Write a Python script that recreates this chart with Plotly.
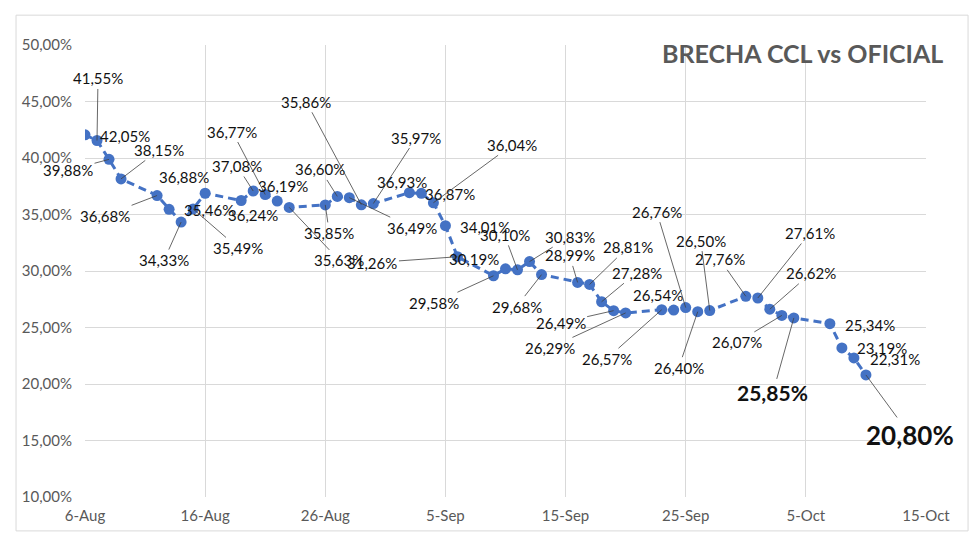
import plotly.graph_objects as go

# ---- data ----
dates = ["2019-08-06", "2019-08-07", "2019-08-08", "2019-08-09",
         "2019-08-12", "2019-08-13", "2019-08-14", "2019-08-15", "2019-08-16",
         "2019-08-19", "2019-08-20", "2019-08-21", "2019-08-22", "2019-08-23",
         "2019-08-26", "2019-08-27", "2019-08-28", "2019-08-29", "2019-08-30",
         "2019-09-02", "2019-09-03", "2019-09-04", "2019-09-05", "2019-09-06",
         "2019-09-09", "2019-09-10", "2019-09-11", "2019-09-12", "2019-09-13",
         "2019-09-16", "2019-09-17", "2019-09-18", "2019-09-19", "2019-09-20",
         "2019-09-23", "2019-09-24", "2019-09-25", "2019-09-26", "2019-09-27",
         "2019-09-30", "2019-10-01", "2019-10-02", "2019-10-03", "2019-10-04",
         "2019-10-07", "2019-10-08", "2019-10-09", "2019-10-10"]
brecha = [42.05, 41.55, 39.88, 38.15,
          36.68, 35.46, 34.33, 35.49, 36.88,
          36.24, 37.08, 36.77, 36.19, 35.63,
          35.85, 36.60, 36.49, 35.86, 35.97,
          36.93, 36.87, 36.04, 34.01, 31.26,
          29.58, 30.19, 30.10, 30.83, 29.68,
          28.99, 28.81, 27.28, 26.49, 26.29,
          26.57, 26.54, 26.76, 26.40, 26.50,
          27.76, 27.61, 26.62, 26.07, 25.85,
          25.34, 23.19, 22.31, 20.80]

x_tick_vals = ["2019-08-06", "2019-08-16", "2019-08-26", "2019-09-05",
               "2019-09-15", "2019-09-25", "2019-10-05", "2019-10-15"]
x_tick_text = ["6-Aug", "16-Aug", "26-Aug", "5-Sep", "15-Sep", "25-Sep", "5-Oct", "15-Oct"]

title_text = "BRECHA CCL vs OFICIAL"

# ---- label layout (pixel offsets of label centre from its point, leader line flag) ----
label_offsets = [(40, 1, 0), (1, -62, 1), (-41, 11, 1), (38, -29, 1),
                 (-52, 20, 1), (40, 1, 0), (-17, 38, 1), (45, 39, 1), (-21, -16, 0),
                 (12, 15, 0), (-16, -25, 1), (-33, -63, 1), (6, -15, 0), (50, 53, 1),
                 (4, 28, 1), (-17, -27, 1), (63, 30, 1), (-55, -103, 1), (43, -66, 1),
                 (-7, -11, 0), (29, 1, 0), (79, -58, 1), (40, 1, 0), (-85, 6, 1),
                 (-59, 27, 1), (-32, -10, 0), (-13, -35, 1), (40, -25, 1), (-25, 32, 1),
                 (-8, -27, 1), (38, -37, 1), (35, -29, 1), (-53, 12, 1), (-76, 35, 1),
                 (-55, 49, 1), (-16, -15, 0), (-29, -96, 1), (-19, 56, 1), (-9, -70, 1),
                 (-26, -37, 1), (52, -65, 1), (41, -36, 1), (-45, 27, 1), (-21, 75, 1),
                 (40, 1, 0), (40, 0, 0), (41, 1, 0), (44, 60, 1)]
big_labels = {43: 21, 47: 26}

BLUE = "#4472C4"
FONT = "Lato"

fig = go.Figure()
fig.add_trace(go.Scatter(
    x=dates, y=brecha, mode="lines+markers",
    line=dict(color=BLUE, width=3, dash="8px,5px"),
    marker=dict(color=BLUE, size=11),
    hoverinfo="skip", showlegend=False))

def fmt(v):
    return f"{v:.2f}".replace(".", ",") + "%"

annotations = []
for i, (d, v) in enumerate(zip(dates, brecha)):
    ox, oy, lead = label_offsets[i]
    big = i in big_labels
    annotations.append(dict(
        x=d, y=v, xref="x", yref="y",
        text=("<b>" + fmt(v) + "</b>") if big else fmt(v),
        showarrow=True, arrowhead=0, ax=ox, ay=oy,
        arrowwidth=0.8,
        arrowcolor="#404040" if lead else "rgba(0,0,0,0)",
        standoff=0, startstandoff=0,
        font=dict(family=FONT, size=big_labels.get(i, 15), color="#111111"),
    ))

annotations.append(dict(
    x=1.0226, y=0.982, xref="paper", yref="paper",
    xanchor="right", yanchor="middle", showarrow=False,
    text="<b>" + title_text + "</b>",
    font=dict(family=FONT, size=25, color="#595959")))

fig.update_layout(
    width=980, height=548,
    margin=dict(l=85, r=54, t=45, b=51),
    paper_bgcolor="white", plot_bgcolor="white",
    separators=",.",
    font=dict(family=FONT, size=15, color="#595959"),
    annotations=annotations,
    shapes=[dict(type="rect", xref="paper", yref="paper",
                 x0=-0.082, x1=1.05, y0=-0.075, y1=1.066,
                 line=dict(color="#D9D9D9", width=1), fillcolor="rgba(0,0,0,0)",
                 layer="below")],
)
fig.update_xaxes(
    type="date", range=["2019-08-06", "2019-10-15"],
    tickvals=x_tick_vals, ticktext=x_tick_text,
    showgrid=True, gridcolor="#D9D9D9", gridwidth=1,
    zeroline=False, showline=False, ticks="",
    ticklabelstandoff=8,
    tickfont=dict(family=FONT, size=15, color="#595959"))
fig.update_yaxes(
    range=[10, 50], dtick=5, tick0=10,
    tickformat=".2f", ticksuffix="%",
    showgrid=True, gridcolor="#D9D9D9", gridwidth=1,
    zeroline=False, showline=False, ticks="",
    ticklabelstandoff=12,
    tickfont=dict(family=FONT, size=15, color="#595959"))

fig.write_html("out.html")
